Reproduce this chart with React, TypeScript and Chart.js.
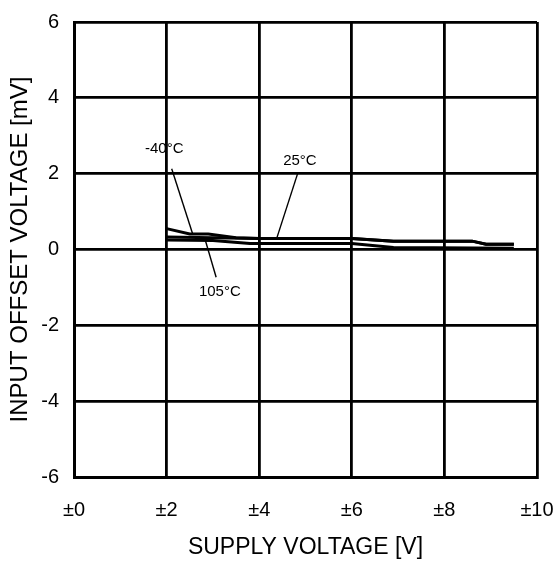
import React, { useEffect, useRef } from "react";
import { Chart, registerables } from "chart.js";

Chart.register(...registerables);

// Supply voltage (±V) and input offset voltage (mV) for each temperature
const supplyM40 = [2, 2.5, 2.9, 3.5, 4, 6, 6.9, 8.6, 8.9, 9.5];
const offsetM40 = [0.55, 0.41, 0.41, 0.31, 0.29, 0.29, 0.22, 0.22, 0.14, 0.14];

const supply25 = [2, 3, 4, 6, 6.9, 8.6, 8.9, 9.5];
const offset25 = [0.33, 0.31, 0.29, 0.29, 0.22, 0.22, 0.14, 0.14];

const supply105 = [2, 3, 3.8, 6, 6.9, 9.5];
const offset105 = [0.25, 0.24, 0.16, 0.16, 0.05, 0.03];

const xTicks = [0, 2, 4, 6, 8, 10];
const yTicks = [-6, -4, -2, 0, 2, 4, 6];

// Curve labels: text, label position (x, y) and leader line (x1, y1, x2, y2) in data units
const labelTexts = ["-40°C", "25°C", "105°C"];
const labelPos = [
  [1.95, 2.65],
  [4.88, 2.34],
  [3.15, -1.11],
];
const leaderLines = [
  [2.11, 2.13, 2.56, 0.42],
  [4.84, 2.04, 4.38, 0.3],
  [2.83, 0.27, 3.07, -0.73],
];

const FONT = "'Liberation Sans', Arial, sans-serif";

const annotationPlugin = {
  id: "curveLabels",
  afterDatasetsDraw(chart: any) {
    const { ctx, scales } = chart;
    const xs = scales.x;
    const ys = scales.y;
    ctx.save();
    ctx.strokeStyle = "#000";
    ctx.lineWidth = 1.4;
    leaderLines.forEach((l) => {
      ctx.beginPath();
      ctx.moveTo(xs.getPixelForValue(l[0]), ys.getPixelForValue(l[1]));
      ctx.lineTo(xs.getPixelForValue(l[2]), ys.getPixelForValue(l[3]));
      ctx.stroke();
    });
    ctx.fillStyle = "#000";
    ctx.font = `15px ${FONT}`;
    ctx.textAlign = "center";
    ctx.textBaseline = "middle";
    labelTexts.forEach((t, i) => {
      ctx.fillText(t, xs.getPixelForValue(labelPos[i][0]), ys.getPixelForValue(labelPos[i][1]));
    });
    ctx.restore();
  },
};

const toPoints = (xs: number[], ys: number[]) => xs.map((x, i) => ({ x, y: ys[i] }));

export default function App() {
  const ref = useRef<HTMLCanvasElement>(null);
  useEffect(() => {
    if (!ref.current) return;
    const lineStyle = {
      borderColor: "#000",
      borderWidth: 3,
      pointRadius: 0,
      tension: 0,
      fill: false,
    };
    const chart = new Chart(ref.current, {
      type: "line",
      data: {
        datasets: [
          { label: "-40°C", data: toPoints(supplyM40, offsetM40), ...lineStyle },
          { label: "25°C", data: toPoints(supply25, offset25), ...lineStyle },
          { label: "105°C", data: toPoints(supply105, offset105), ...lineStyle },
        ],
      },
      options: {
        animation: false,
        responsive: false,
        layout: { padding: { top: 22, right: 21, left: 0, bottom: 0 } },
        plugins: { legend: { display: false }, tooltip: { enabled: false } },
        scales: {
          x: {
            type: "linear",
            min: 0,
            max: 10,
            afterBuildTicks: (s: any) => {
              s.ticks = xTicks.map((v) => ({ value: v }));
            },
            afterFit: (s: any) => {
              s.height = 84;
              s.paddingLeft = 0;
              s.paddingRight = 0;
            },
            ticks: {
              color: "#000",
              font: { family: FONT, size: 20 },
              padding: 21,
              maxRotation: 0,
              callback: (v: any) => "±" + v,
            },
            grid: { color: "#000", lineWidth: 2.8, drawTicks: false },
            border: { color: "#000", width: 3 },
            title: {
              display: true,
              text: "SUPPLY VOLTAGE [V]",
              color: "#000",
              font: { family: FONT, size: 23 },
              padding: { top: 0, bottom: 0 },
            },
          },
          y: {
            type: "linear",
            min: -6,
            max: 6,
            afterBuildTicks: (s: any) => {
              s.ticks = yTicks.map((v) => ({ value: v }));
            },
            afterFit: (s: any) => {
              s.width = 74;
              s.paddingTop = 0;
              s.paddingBottom = 0;
            },
            ticks: {
              color: "#000",
              font: { family: FONT, size: 20 },
              padding: 15,
            },
            grid: { color: "#000", lineWidth: 2.8, drawTicks: false },
            border: { color: "#000", width: 3 },
            title: {
              display: true,
              text: "INPUT OFFSET VOLTAGE [mV]",
              color: "#000",
              font: { family: FONT, size: 24 },
              padding: { top: 6, bottom: 0 },
            },
          },
        },
      },
      plugins: [annotationPlugin],
    });
    return () => chart.destroy();
  }, []);
  return (
    <div style={{ position: "absolute", left: 0, top: 0, width: 558, height: 561, background: "#fff" }}>
      <canvas ref={ref} width={558} height={561} />
    </div>
  );
}
